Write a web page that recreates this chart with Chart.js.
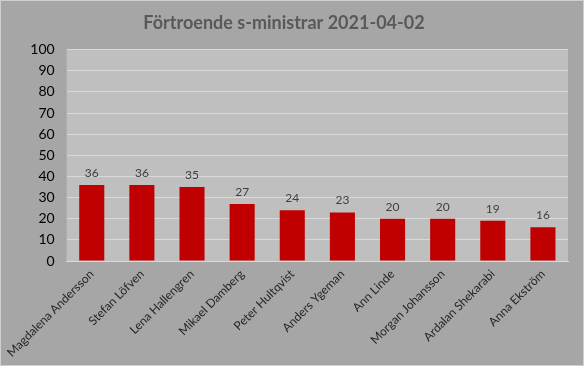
<!DOCTYPE html>
<html>
<head>
<meta charset="utf-8">
<script src="https://cdn.jsdelivr.net/npm/chart.js@4"></script>
<style>
  html, body { margin: 0; padding: 0; background: #a6a6a6; }
  #wrap { width: 584px; height: 366px; }
</style>
</head>
<body>
<div id="wrap"><canvas id="myChart" width="584" height="366"></canvas></div>
<script>
const ministers = [
  "Magdalena Andersson", "Stefan Löfven", "Lena Hallengren", "Mikael Damberg",
  "Peter Hultqvist", "Anders Ygeman", "Ann Linde", "Morgan Johansson",
  "Ardalan Shekarabi", "Anna Ekström"
];
const confidence = [36, 36, 35, 27, 24, 23, 20, 20, 19, 16];
const yTicks = [0, 10, 20, 30, 40, 50, 60, 70, 80, 90, 100];

const FONT = "Lato, 'Open Sans', sans-serif";

// background, border and plot area fill
const backdrop = {
  id: "backdrop",
  beforeDraw(chart) {
    const { ctx, chartArea: a, width, height } = chart;
    ctx.save();
    ctx.fillStyle = "#a6a6a6";
    ctx.fillRect(0, 0, width, height);
    ctx.strokeStyle = "#d0d0d0";
    ctx.lineWidth = 1;
    ctx.strokeRect(0.5, 0.5, width - 1, height - 1);
    ctx.fillStyle = "#bfbfbf";
    ctx.fillRect(a.left, a.top, a.right - a.left, a.bottom - a.top);
    ctx.restore();
  }
};

// value labels above bars
const valueLabels = {
  id: "valueLabels",
  afterDatasetsDraw(chart) {
    const { ctx } = chart;
    const meta = chart.getDatasetMeta(0);
    ctx.save();
    ctx.font = "12px " + FONT;
    ctx.fillStyle = "#404040";
    ctx.textAlign = "center";
    ctx.textBaseline = "bottom";
    meta.data.forEach((bar, i) => {
      ctx.fillText(confidence[i], bar.x, bar.y - 6);
    });
    ctx.restore();
  }
};

new Chart(document.getElementById("myChart"), {
  type: "bar",
  data: {
    labels: ministers,
    datasets: [{
      data: confidence,
      backgroundColor: "#c00000",
      categoryPercentage: 1,
      barPercentage: 0.5
    }]
  },
  options: {
    responsive: false,
    animation: false,
    layout: { padding: { left: 0, right: 16, top: 0, bottom: 0 } },
    plugins: {
      legend: { display: false },
      tooltip: { enabled: false },
      title: {
        display: true,
        text: "Förtroende s-ministrar 2021-04-02",
        color: "#595959",
        font: { family: FONT, size: 18, weight: "bold" },
        padding: { top: 12, bottom: 16 }
      }
    },
    scales: {
      x: {
        grid: { display: false, drawTicks: false },
        border: { color: "#d9d9d9", width: 1 },
        ticks: {
          color: "#262626",
          font: { family: FONT, size: 12 },
          maxRotation: 45,
          minRotation: 45,
          padding: 6,
          autoSkip: false
        },
        afterFit(s) { s.height = 105; }
      },
      y: {
        min: 0,
        max: 100,
        afterBuildTicks(s) { s.ticks = yTicks.map(v => ({ value: v })); },
        grid: { color: "#d9d9d9", lineWidth: 1, drawTicks: false },
        border: { display: false },
        ticks: {
          color: "#000000",
          font: { family: FONT, size: 14 },
          padding: 12
        },
        afterFit(s) { s.width = 64; }
      }
    }
  },
  plugins: [backdrop, valueLabels]
});
</script>
</body>
</html>
